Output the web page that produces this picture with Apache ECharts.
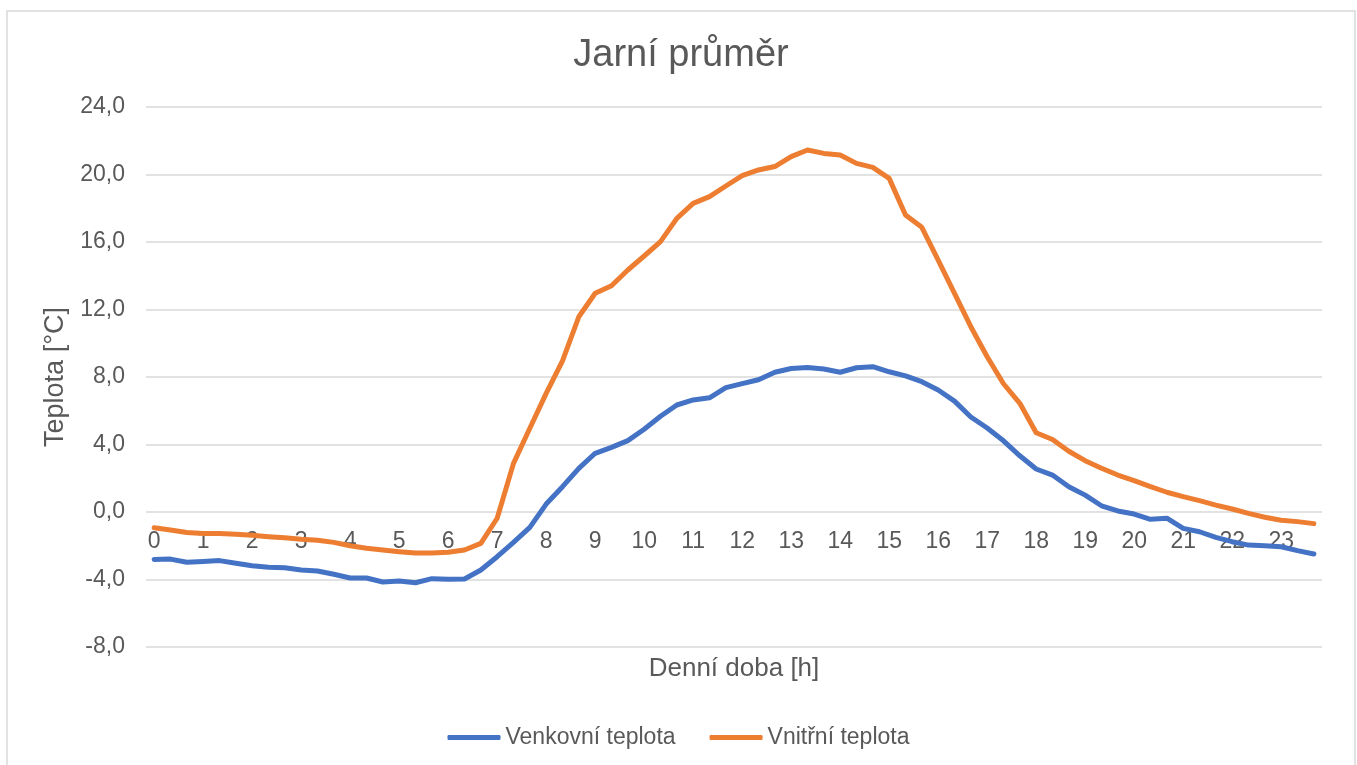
<!DOCTYPE html>
<html>
<head>
<meta charset="utf-8">
<title>Jarní průměr</title>
<script src="https://cdn.jsdelivr.net/npm/echarts@6/dist/echarts.min.js"></script>
<style>
    html, body { margin: 0; padding: 0; background: #fff; }
    #main { width: 1357px; height: 765px; }
</style>
</head>
<body>
<div id="main"></div>
<script>
    // denní doba po 20 minutách
    var casy = [
        '0:00','0:20','0:40','1:00','1:20','1:40','2:00','2:20','2:40','3:00','3:20','3:40',
        '4:00','4:20','4:40','5:00','5:20','5:40','6:00','6:20','6:40','7:00','7:20','7:40',
        '8:00','8:20','8:40','9:00','9:20','9:40','10:00','10:20','10:40','11:00','11:20','11:40',
        '12:00','12:20','12:40','13:00','13:20','13:40','14:00','14:20','14:40','15:00','15:20','15:40',
        '16:00','16:20','16:40','17:00','17:20','17:40','18:00','18:20','18:40','19:00','19:20','19:40',
        '20:00','20:20','20:40','21:00','21:20','21:40','22:00','22:20','22:40','23:00','23:20','23:40'
    ];
    var hodiny = ['0','1','2','3','4','5','6','7','8','9','10','11','12','13','14','15','16','17','18','19','20','21','22','23'];

    var venkovni = [
        -2.81, -2.79, -2.98, -2.94, -2.88, -3.04, -3.18, -3.28, -3.30, -3.44, -3.50, -3.69,
        -3.91, -3.91, -4.15, -4.09, -4.19, -3.95, -3.99, -3.97, -3.44, -2.65, -1.80, -0.91,
        0.47, 1.50, 2.59, 3.48, 3.83, 4.23, 4.90, 5.67, 6.34, 6.64, 6.77, 7.37,
        7.61, 7.84, 8.28, 8.50, 8.56, 8.47, 8.28, 8.55, 8.61, 8.31, 8.07, 7.72,
        7.23, 6.57, 5.63, 4.98, 4.22, 3.33, 2.55, 2.19, 1.50, 1.00, 0.37, 0.06,
        -0.12, -0.43, -0.37, -0.97, -1.17, -1.50, -1.76, -1.96, -2.00, -2.06, -2.29, -2.49
    ];
    var vnitrni = [
        -0.93, -1.07, -1.22, -1.28, -1.28, -1.32, -1.38, -1.46, -1.52, -1.62, -1.68, -1.80,
        -2.00, -2.15, -2.25, -2.35, -2.43, -2.43, -2.39, -2.25, -1.86, -0.37, 2.88, 4.96,
        7.03, 8.95, 11.57, 12.96, 13.41, 14.34, 15.17, 16.02, 17.40, 18.29, 18.69, 19.32,
        19.93, 20.27, 20.47, 21.06, 21.45, 21.25, 21.16, 20.66, 20.42, 19.77, 17.60, 16.87,
        14.93, 12.96, 10.98, 9.20, 7.60, 6.44, 4.70, 4.30, 3.60, 3.04, 2.59, 2.19,
        1.86, 1.50, 1.17, 0.91, 0.67, 0.41, 0.18, -0.08, -0.31, -0.49, -0.57, -0.69
    ];

    var pismo = '"Liberation Sans", Arial, sans-serif';
    var sediva = '#595959';

    var myChart = echarts.init(document.getElementById('main'));
    var option = {
        backgroundColor: '#fff',
        color: ['#4472C4', '#ED7D31'],
        textStyle: { fontFamily: pismo },
        title: {
            text: 'Jarní průměr',
            left: 681,
            textAlign: 'center',
            top: 37,
            padding: 0,
            textStyle: { fontFamily: pismo, fontSize: 38, fontWeight: 'normal', color: sediva }
        },
        graphic: [
            {
                type: 'rect',
                shape: { x: 7, y: 11, width: 1348, height: 780 },
                style: { fill: null, stroke: '#d9d9d9', lineWidth: 1.5 },
                silent: true
            }
        ],
        legend: {
            bottom: 11,
            left: 'center',
            itemWidth: 53,
            itemHeight: 5,
            itemGap: 34,
            icon: 'roundRect',
            textStyle: { fontFamily: pismo, fontSize: 23, color: sediva },
            data: ['Venkovní teplota', 'Vnitřní teplota']
        },
        grid: {
            left: 146,
            right: 35,
            top: 107,
            bottom: 118,
            containLabel: false,
            outerBoundsMode: 'none'
        },
        xAxis: {
            type: 'category',
            data: casy,
            boundaryGap: true,
            // popisky osy x sedí u nulové čáry (0,0), jako v Excelu
            offset: -135,
            name: 'Denní doba [h]',
            nameLocation: 'middle',
            nameGap: 144,
            nameTextStyle: { fontFamily: pismo, fontSize: 26, color: sediva },
            axisLine: { show: false, onZero: false },
            axisTick: { show: false },
            splitLine: { show: false },
            axisLabel: {
                interval: 2,
                margin: 18,
                fontSize: 23,
                color: sediva,
                formatter: function (v, i) {
                    return hodiny[Math.floor(i / 3)];
                }
            }
        },
        yAxis: {
            type: 'value',
            min: -8,
            max: 24,
            interval: 4,
            name: 'Teplota [°C]',
            nameLocation: 'middle',
            nameGap: 72,
            nameRotate: 90,
            nameTextStyle: { fontFamily: pismo, fontSize: 27, color: sediva },
            axisLine: { show: false },
            axisTick: { show: false },
            splitLine: { lineStyle: { color: '#d9d9d9', width: 1.5 } },
            axisLabel: {
                margin: 21,
                fontSize: 23,
                color: sediva,
                formatter: function (v) {
                    return v.toFixed(1).replace('.', ',');
                }
            }
        },
        series: [
            {
                name: 'Venkovní teplota',
                type: 'line',
                data: venkovni,
                symbol: 'none',
                smooth: false,
                lineStyle: { width: 5, cap: 'round', join: 'round' }
            },
            {
                name: 'Vnitřní teplota',
                type: 'line',
                data: vnitrni,
                symbol: 'none',
                smooth: false,
                lineStyle: { width: 5, cap: 'round', join: 'round' }
            }
        ]
    };
    myChart.setOption(option);
</script>
</body>
</html>
